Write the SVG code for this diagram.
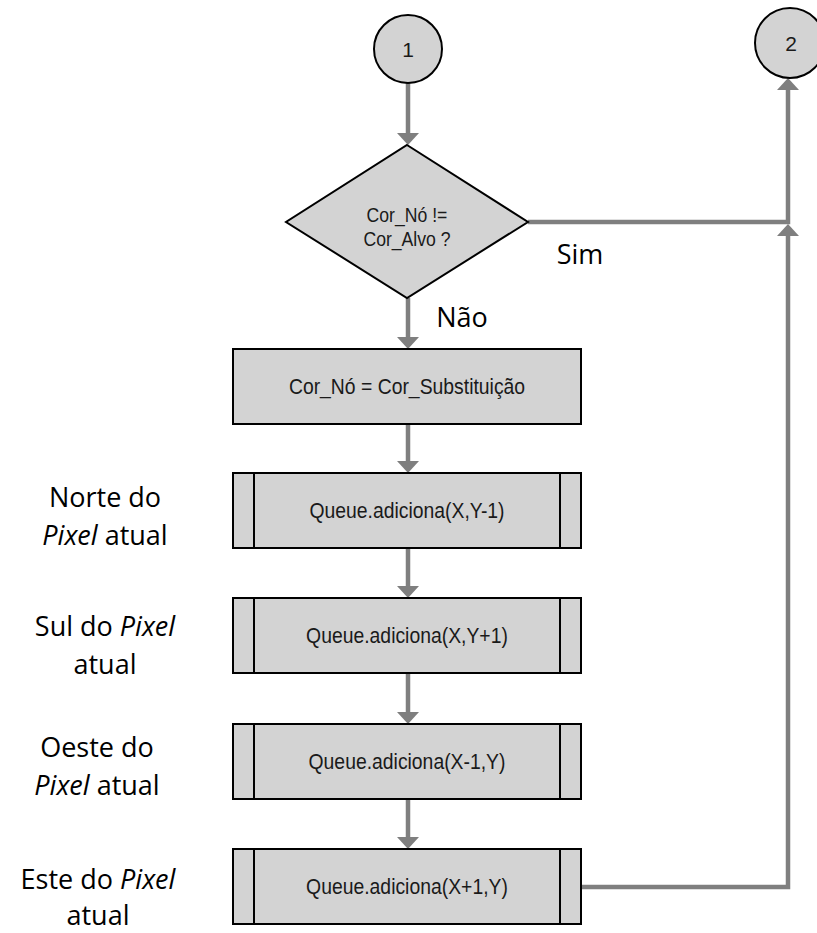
<svg xmlns="http://www.w3.org/2000/svg" width="817" height="933" viewBox="0 0 817 933">
  <style>
    .shape { fill: #d3d3d3; stroke: #000; stroke-width: 2; }
    .inner { stroke: #000; stroke-width: 2; fill: none; }
    .flow { fill: none; stroke: #7f7f7f; stroke-width: 4.5; }
    .node-text { font-family: "Liberation Sans", Arial, sans-serif; font-size: 22px; fill: #1a1a1a; text-anchor: middle; }
    .cond-text { font-family: "Liberation Sans", Arial, sans-serif; font-size: 21px; fill: #1a1a1a; text-anchor: middle; }
    .conn-text { font-family: "Liberation Sans", Arial, sans-serif; font-size: 21px; fill: #1a1a1a; text-anchor: middle; }
    .label { font-family: "Open Sans", "Noto Sans", sans-serif; font-size: 27px; fill: #000; text-anchor: middle; }
    .label .it { font-style: italic; }
  </style>
  <defs>
    <marker id="arrow" viewBox="0 0 12 22" refX="1" refY="11" markerWidth="12" markerHeight="22" markerUnits="userSpaceOnUse" orient="auto">
      <path d="M0,0 L12,11 L0,22 z" fill="#7f7f7f"/>
    </marker>
  </defs>

  <rect width="817" height="933" fill="#fff"/>

  <!-- connectors -->
  <g id="connectors">
    <path class="flow" d="M408,83 V134" marker-end="url(#arrow)"/>
    <path class="flow" d="M408,298 V338" marker-end="url(#arrow)"/>
    <path class="flow" d="M408,424 V462" marker-end="url(#arrow)"/>
    <path class="flow" d="M408,548 V587" marker-end="url(#arrow)"/>
    <path class="flow" d="M408,673 V713" marker-end="url(#arrow)"/>
    <path class="flow" d="M408,799 V838" marker-end="url(#arrow)"/>
    <path class="flow" d="M581,887 H788 V235" marker-end="url(#arrow)"/>
    <path class="flow" d="M528,222 H788 V89" marker-end="url(#arrow)"/>
    <text class="label" x="580" y="264">Sim</text>
    <text class="label" x="462" y="327">Não</text>
  </g>

  <!-- connector 1 -->
  <g id="start1">
    <circle class="shape" cx="408" cy="49" r="34"/>
    <text class="conn-text" x="408" y="57">1</text>
  </g>

  <!-- connector 2 -->
  <g id="end2">
    <circle class="shape" cx="790" cy="43" r="35"/>
    <text class="conn-text" x="791" y="51">2</text>
  </g>

  <!-- decision (text narrowed horizontally) -->
  <g id="decision">
    <polygon class="shape" points="407,145 528,222 407,298 286,222" stroke-width="1.6"/>
    <text class="cond-text" transform="translate(407,222) scale(0.84,1)">Cor_Nó !=</text>
    <text class="cond-text" transform="translate(407,246) scale(0.84,1)">Cor_Alvo ?</text>
  </g>

  <!-- assignment -->
  <g id="assign">
    <rect class="shape" x="233" y="349" width="348" height="75"/>
    <text class="node-text" transform="translate(407,394) scale(0.88,1)">Cor_Nó = Cor_Substituição</text>
  </g>

  <!-- neighbour enqueue steps -->
  <g id="north">
    <rect class="shape" x="233" y="473" width="348" height="75"/>
    <line class="inner" x1="254" y1="473" x2="254" y2="548"/>
    <line class="inner" x1="560" y1="473" x2="560" y2="548"/>
    <text class="node-text" transform="translate(407,518) scale(0.88,1)">Queue.adiciona(X,Y-1)</text>
  </g>
  <g id="south">
    <rect class="shape" x="233" y="598" width="348" height="75"/>
    <line class="inner" x1="254" y1="598" x2="254" y2="673"/>
    <line class="inner" x1="560" y1="598" x2="560" y2="673"/>
    <text class="node-text" transform="translate(407,643) scale(0.88,1)">Queue.adiciona(X,Y+1)</text>
  </g>
  <g id="west">
    <rect class="shape" x="233" y="724" width="348" height="75"/>
    <line class="inner" x1="254" y1="724" x2="254" y2="799"/>
    <line class="inner" x1="560" y1="724" x2="560" y2="799"/>
    <text class="node-text" transform="translate(407,769) scale(0.88,1)">Queue.adiciona(X-1,Y)</text>
  </g>
  <g id="east">
    <rect class="shape" x="233" y="849" width="348" height="75"/>
    <line class="inner" x1="254" y1="849" x2="254" y2="924"/>
    <line class="inner" x1="560" y1="849" x2="560" y2="924"/>
    <text class="node-text" transform="translate(407,894) scale(0.88,1)">Queue.adiciona(X+1,Y)</text>
  </g>

  <!-- side notes -->
  <g id="note-north">
    <text class="label" x="105" y="507">Norte do</text>
    <text class="label" x="105" y="545"><tspan class="it">Pixel</tspan> atual</text>
  </g>
  <g id="note-south">
    <text class="label" x="105" y="636">Sul do <tspan class="it">Pixel</tspan></text>
    <text class="label" x="105" y="674">atual</text>
  </g>
  <g id="note-west">
    <text class="label" x="97" y="757">Oeste do</text>
    <text class="label" x="97" y="795"><tspan class="it">Pixel</tspan> atual</text>
  </g>
  <g id="note-east">
    <text class="label" x="98" y="889" font-size="26">Este do <tspan class="it">Pixel</tspan></text>
    <text class="label" x="98" y="925" font-size="26">atual</text>
  </g>
</svg>
